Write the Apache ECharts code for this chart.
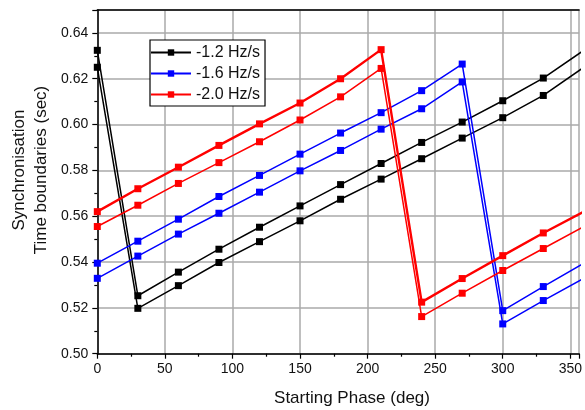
<!DOCTYPE html>
<html><head><meta charset="utf-8">
<script src="https://cdn.jsdelivr.net/npm/echarts@6/dist/echarts.min.js"></script>
<style>html,body{margin:0;padding:0;background:#fff}#c{width:585px;height:410px}</style>
</head><body><div id="c"></div>
<script>
const phases = [0, 30, 60, 90, 120, 150, 180, 210, 240, 270, 300, 330, 360];
const seriesNames = ['-1.2 Hz/s', '-1.6 Hz/s', '-2.0 Hz/s'];
const black_upper = [0.6324, 0.5253, 0.5356, 0.5456, 0.5552, 0.5645, 0.5738, 0.5830, 0.5922, 0.6011, 0.6104, 0.6203, 0.6324];
const black_lower = [0.6250, 0.5198, 0.5297, 0.5398, 0.5489, 0.5580, 0.5674, 0.5762, 0.5851, 0.5941, 0.6030, 0.6127, 0.6250];
const blue_upper  = [0.5395, 0.5491, 0.5587, 0.5686, 0.5778, 0.5871, 0.5963, 0.6052, 0.6148, 0.6264, 0.5188, 0.5293, 0.5395];
const blue_lower  = [0.5329, 0.5426, 0.5522, 0.5613, 0.5705, 0.5798, 0.5887, 0.5980, 0.6069, 0.6186, 0.5130, 0.5232, 0.5329];
const red_upper   = [0.5620, 0.5720, 0.5814, 0.5909, 0.6003, 0.6094, 0.6200, 0.6327, 0.5225, 0.5328, 0.5428, 0.5527, 0.5620];
const red_lower   = [0.5555, 0.5648, 0.5743, 0.5834, 0.5925, 0.6020, 0.6121, 0.6245, 0.5162, 0.5264, 0.5363, 0.5459, 0.5555];
const xTicks = [0, 50, 100, 150, 200, 250, 300, 350];
const yTicks = [0.50, 0.52, 0.54, 0.56, 0.58, 0.60, 0.62, 0.64];
const xTitle = 'Starting Phase (deg)';
const yTitle = ['Synchronisation', 'Time boundaries (sec)'];

const FONT = 'Liberation Sans, Arial, sans-serif';
function mk(name, color, vals, w) {
  return {
    name: name, type: 'line', data: phases.map((p, i) => [p, vals[i]]),
    symbol: 'rect', symbolSize: 7, color: color,
    lineStyle: { color: color, width: w }, itemStyle: { color: color },
    animation: false, z: 3
  };
}
const chart = echarts.init(document.getElementById('c'), null, { renderer: 'canvas' });
chart.setOption({
  backgroundColor: '#fff',
  textStyle: { fontFamily: FONT },
  grid: { left: 97.3, top: 10, bottom: 56.3, right: 0, show: false },
  legend: {
    data: seriesNames, orient: 'vertical', left: 150, top: 40,
    backgroundColor: '#fff', borderColor: '#000', borderWidth: 1.2,
    padding: [4, 5, 3, 0], itemWidth: 40, itemHeight: 8, itemGap: 4,
    textStyle: { fontFamily: FONT, fontSize: 16, color: '#111', lineHeight: 17 }
  },
  graphic: [
    { type: 'text', x: 352, y: 398, style: { text: xTitle, font: '17px ' + FONT, fill: '#111', align: 'center', verticalAlign: 'middle' } },
    { type: 'text', x: 19.5, y: 170, rotation: Math.PI / 2, style: { text: yTitle[0], font: '17px ' + FONT, fill: '#111', align: 'center', verticalAlign: 'middle' } },
    { type: 'text', x: 41.5, y: 170, rotation: Math.PI / 2, style: { text: yTitle[1], font: '17px ' + FONT, fill: '#111', align: 'center', verticalAlign: 'middle' } }
  ],
  xAxis: [{
    type: 'value', min: 0, max: 356.5, interval: 50,
    axisLine: { show: true, onZero: false, lineStyle: { color: '#000', width: 1.5 } },
    axisTick: { show: true, inside: false, length: 5, lineStyle: { color: '#000', width: 1.2 } },
    minorTick: { show: true, splitNumber: 2, length: 3, lineStyle: { color: '#000', width: 1.2 } },
    axisLabel: { showMaxLabel: false, fontFamily: FONT, fontSize: 14, color: '#111', margin: 8,
      formatter: v => (xTicks.indexOf(v) >= 0 ? String(v) : '') },
    splitLine: { show: true, lineStyle: { color: '#aaaaaa', width: 1.5 } }
  }, {
    type: 'value', position: 'top', min: 0, max: 356.5,
    axisLine: { show: true, onZero: false, lineStyle: { color: '#000', width: 1.5 } },
    axisTick: { show: false }, axisLabel: { show: false }, splitLine: { show: false }
  }],
  yAxis: {
    type: 'value', min: 0.50, max: 0.65, interval: 0.02,
    axisLine: { show: true, onZero: false, lineStyle: { color: '#000', width: 1.5 } },
    axisTick: { show: true, inside: false, length: 5, lineStyle: { color: '#000', width: 1.2 } },
    minorTick: { show: true, splitNumber: 2, length: 3, lineStyle: { color: '#000', width: 1.2 } },
    axisLabel: { showMaxLabel: false, fontFamily: FONT, fontSize: 14, color: '#111', margin: 9,
      formatter: v => { const s = v.toFixed(2); return yTicks.some(t => Math.abs(t - v) < 1e-6) ? s : ''; } },
    splitLine: { show: true, lineStyle: { color: '#aaaaaa', width: 1.5 } }
  },
  series: [
    mk(seriesNames[0], '#000000', black_upper, 1.5),
    mk(seriesNames[0], '#000000', black_lower, 1.5),
    mk(seriesNames[1], '#0000ff', blue_upper, 1.5),
    mk(seriesNames[1], '#0000ff', blue_lower, 1.5),
    mk(seriesNames[2], '#ff0000', red_upper, 2.4),
    mk(seriesNames[2], '#ff0000', red_lower, 1.5)
  ]
});
</script></body></html>
